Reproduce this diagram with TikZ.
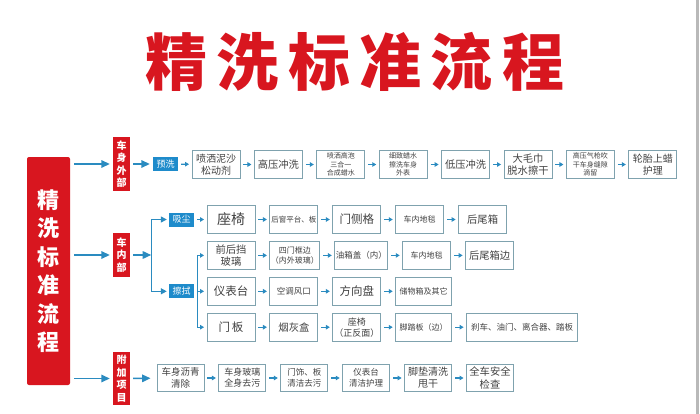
\documentclass[tikz,border=0pt]{standalone}
\usepackage{fontspec}
\setmainfont{Noto Sans CJK SC}
\newfontfamily\titlefont[LetterSpace=15]{Noto Sans CJK SC}
\usepackage{xcolor}
\usepackage{tikz}
\usetikzlibrary{positioning, arrows.meta}

\definecolor{redc}{HTML}{D8161F}
\definecolor{bluec}{HTML}{1E8BCB}
\definecolor{arrc}{HTML}{2A8BC0}
\definecolor{boxc}{HTML}{7FA2AE}
\definecolor{txtc}{HTML}{404040}

\tikzset{
  box/.style={draw=boxc, line width=0.9pt, minimum width=48pt, minimum height=27.5pt, inner sep=1pt, align=center, text=txtc},
  lab/.style={fill=bluec, text=white, minimum width=25pt, minimum height=14pt, inner sep=0pt, font=\fontsize{9}{10}\selectfont},
  part/.style={fill=redc, text=white, minimum width=17pt, inner sep=0pt, align=center, font=\bfseries\fontsize{10}{12.5}\selectfont},
  barr/.style={-{Triangle[length=8.5pt,width=7.5pt]}, line width=1.6pt, arrc},
  farr/.style={-{Triangle[length=6pt,width=6pt]}, line width=1.3pt, arrc},
  sarr/.style={-{Triangle[length=4pt,width=4.5pt]}, line width=1.3pt, arrc, shorten <=3pt, shorten >=2.5pt},
  s7/.style={font=\fontsize{7}{8.2}\selectfont},
  s8/.style={font=\fontsize{8}{10}\selectfont},
  s9/.style={font=\fontsize{9}{11}\selectfont},
  s10/.style={font=\fontsize{10}{12}\selectfont},
  s11/.style={font=\fontsize{10.3}{12.5}\selectfont},
  s12/.style={font=\fontsize{11.5}{13.5}\selectfont},
  s14/.style={font=\fontsize{14}{16}\selectfont}
}

\begin{document}
\begin{tikzpicture}[x=1pt, y=-1pt]
\useasboundingbox (0,0) rectangle (700,414);
\fill[gray!55] (696,0) rectangle (699,414);

\node(title)[text=redc, font=\fontsize{62}{62}\selectfont] at (355,62) {\titlefont\bfseries 精洗标准流程};

\node(main)[fill=redc, rounded corners=2pt, minimum width=43pt, minimum height=228pt, text=white, align=center, font=\bfseries\fontsize{22}{28.5}\selectfont] at (48.5,271) {精\\洗\\标\\准\\流\\程};

\node(ext)[part, minimum height=54pt] at (121.5,164) {车\\身\\外\\部};
\node(int)[part, minimum height=44pt] at (121.5,255) {车\\内\\部};
\node(add)[part, minimum height=53pt] at (121.5,378.5) {附\\加\\项\\目};

\node(pre)[lab] at (165.5,164) {预洗};
\node(w1)[box, s10] at (216,164.5) {喷洒泥沙\\松动剂};
\node(w2)[box, s11, right=13.5pt of w1] {高压冲洗};
\node(w3)[box, s7, right=13.5pt of w2] {喷洒高泡\\三合一\\合成蜡水};
\node(w4)[box, s7, right=13.5pt of w3] {细致蜡水\\擦洗车身\\外表};
\node(w5)[box, s11, right=13.5pt of w4] {低压冲洗};
\node(w6)[box, s11, right=13.5pt of w5] {大毛巾\\脱水擦干};
\node(w7)[box, s7, right=13.5pt of w6] {高压气枪吹\\干车身缝隙\\滴留};
\node(w8)[box, s10, right=13.5pt of w7] {轮胎上蜡\\护理};

\node(vac)[lab] at (181.5,219.5) {吸尘};
\node(a1)[box, s14] at (231,219.5) {座椅};
\node(a2)[box, font=\fontsize{7.5}{9}\selectfont, right=14pt of a1] {后窗平台、板};
\node(a3)[box, s12, right=14pt of a2] {门侧格};
\node(a4)[box, s8, right=14pt of a3] {车内地毯};
\node(a5)[box, s11, right=14pt of a4] {后尾箱};

\node(b1)[box, s11, below=7.5pt of a1] {前后挡\\玻璃};
\node(b2)[box, s8, right=14pt of b1] {四门框边\\（内外玻璃）};
\node(b3)[box, font=\fontsize{8.5}{10}\selectfont, right=14pt of b2] {油箱盖（内）};
\node(b4)[box, s8, right=14pt of b3] {车内地毯};
\node(b5)[box, s11, right=14pt of b4] {后尾箱边};

\node(c1)[box, s12, below=7.5pt of b1] {仪表台};
\node(c2)[box, font=\fontsize{8.5}{10}\selectfont, right=14pt of c1] {空调风口};
\node(c3)[box, s12, right=14pt of c2] {方向盘};
\node(c4)[box, s8, minimum width=56pt, right=14pt of c3] {储物箱及其它};
\node(wipe)[lab] at (vac |- c1) {擦拭};

\node(d1)[box, s12, below=7.5pt of c1] {门\,板};
\node(d2)[box, s11, right=14pt of d1] {烟灰盒};
\node(d3)[box, s9, right=14pt of d2] {座椅\\（正反面）};
\node(d4)[box, s8, minimum width=56pt, right=14pt of d3] {脚踏板（边）};
\node(d5)[box, font=\fontsize{8.5}{10}\selectfont, minimum width=111pt, right=14pt of d4] {刹车、油门、离合器、踏板};

\node(f1)[box, font=\fontsize{9.5}{11.5}\selectfont, minimum width=47pt] at (180.5,378) {车身沥青\\清除};
\node(f2)[box, s9, minimum width=47pt, right=14pt of f1] {车身玻璃\\全身去污};
\node(f3)[box, font=\fontsize{8.5}{10.5}\selectfont, minimum width=47pt, right=14pt of f2] {门饰、板\\清洁去污};
\node(f4)[box, font=\fontsize{8.5}{10.5}\selectfont, minimum width=47pt, right=14pt of f3] {仪表台\\清洁护理};
\node(f5)[box, s10, minimum width=47pt, right=14pt of f4] {脚垫清洗\\甩干};
\node(f6)[box, s11, minimum width=47pt, right=14pt of f5] {全车安全\\检查};

\coordinate(sp) at ([xshift=21pt]int.east);
\coordinate(sp2) at ([xshift=3pt]wipe.east);

\draw[barr, shorten <=4pt, shorten >=3pt] (main.east |- ext) -- (ext);
\draw[barr, shorten <=4pt, shorten >=3pt] (main.east |- int) -- (int);
\draw[barr, shorten <=4pt, shorten >=3pt] (main.east |- add) -- (add);
\draw[barr, shorten <=3pt, shorten >=3pt] (ext) -- (pre);
\draw[barr, shorten <=3pt] (int) -- (sp);
\draw[barr, shorten <=3pt, shorten >=6pt] (add) -- (f1);
\draw[farr, shorten >=2pt] (sp) |- (vac);
\draw[farr, shorten >=2pt] (sp) |- (wipe);

\draw[sarr] (pre) -- (w1);
\draw[sarr] (w1) -- (w2);
\draw[sarr] (w2) -- (w3);
\draw[sarr] (w3) -- (w4);
\draw[sarr] (w4) -- (w5);
\draw[sarr] (w5) -- (w6);
\draw[sarr] (w6) -- (w7);
\draw[sarr] (w7) -- (w8);

\draw[sarr] (vac) -- (a1);
\draw[sarr] (a1) -- (a2);
\draw[sarr] (a2) -- (a3);
\draw[sarr] (a3) -- (a4);
\draw[sarr] (a4) -- (a5);

\draw[sarr, shorten <=0pt] (sp2) |- (b1);
\draw[sarr] (b1) -- (b2);
\draw[sarr] (b2) -- (b3);
\draw[sarr] (b3) -- (b4);
\draw[sarr] (b4) -- (b5);

\draw[sarr] (wipe) -- (c1);
\draw[sarr] (c1) -- (c2);
\draw[sarr] (c2) -- (c3);
\draw[sarr] (c3) -- (c4);

\draw[sarr, shorten <=0pt] (sp2) |- (d1);
\draw[sarr] (d1) -- (d2);
\draw[sarr] (d2) -- (d3);
\draw[sarr] (d3) -- (d4);
\draw[sarr] (d4) -- (d5);

\draw[sarr] (f1) -- (f2);
\draw[sarr] (f2) -- (f3);
\draw[sarr] (f3) -- (f4);
\draw[sarr] (f4) -- (f5);
\draw[sarr] (f5) -- (f6);
\end{tikzpicture}
\end{document}
